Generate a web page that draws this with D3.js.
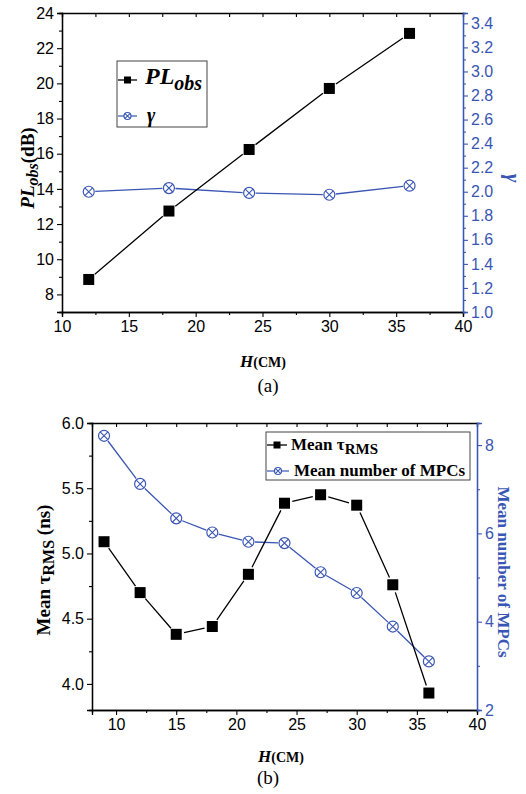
<!DOCTYPE html>
<html><head><meta charset="utf-8">
<script src="https://cdn.jsdelivr.net/npm/d3@7"></script>
<style>body{margin:0;background:#fff}</style>
</head><body>
<svg id="c" width="526" height="794"></svg>
<script>
// ---- data ----
const hA = [12, 18, 24, 30, 36];
const plObs = [8.85, 12.74, 16.24, 19.71, 22.84];
const gamma = [2.00, 2.03, 1.99, 1.975, 2.05];
const hB = [9, 12, 15, 18, 21, 24, 27, 30, 33, 36];
const tauRms = [5.09, 4.70, 4.38, 4.44, 4.84, 5.385, 5.45, 5.37, 4.76, 3.93];
const mpcs = [8.21, 7.12, 6.34, 6.02, 5.81, 5.78, 5.12, 4.65, 3.89, 3.10];
const xTicks = [10, 15, 20, 25, 30, 35, 40];
const xMinor = [12.5, 17.5, 22.5, 27.5, 32.5, 37.5];
const plTicks = [8, 10, 12, 14, 16, 18, 20, 22, 24];
const plMinor = [7, 9, 11, 13, 15, 17, 19, 21, 23];
const gammaTicks = [1.0, 1.2, 1.4, 1.6, 1.8, 2.0, 2.2, 2.4, 2.6, 2.8, 3.0, 3.2, 3.4];
const gammaMinor = [1.1, 1.3, 1.5, 1.7, 1.9, 2.1, 2.3, 2.5, 2.7, 2.9, 3.1, 3.3];
const tauTicks = [4.0, 4.5, 5.0, 5.5, 6.0];
const tauMinor = [4.25, 4.75, 5.25, 5.75];
const mpcTicks = [2, 4, 6, 8];
const mpcMinor = [3, 5, 7];

const BLUE = "#3a56b4";
const SANS = "Liberation Sans, Arial, sans-serif";
const SERIF = "Liberation Serif, Times New Roman, serif";
const svg = d3.select("#c");

function gapPath(pts, gap) {
  let d = "";
  for (let i = 0; i < pts.length - 1; i++) {
    const [x1, y1] = pts[i], [x2, y2] = pts[i + 1];
    const dx = x2 - x1, dy = y2 - y1, L = Math.hypot(dx, dy);
    if (L <= 2 * gap) continue;
    const ux = dx / L, uy = dy / L;
    d += `M${x1 + ux * gap},${y1 + uy * gap}L${x2 - ux * gap},${y2 - uy * gap}`;
  }
  return d;
}

function styleAxis(g, color, fs) {
  g.selectAll("path.domain").attr("stroke", color).attr("stroke-width", 1.3);
  g.selectAll(".tick line").attr("stroke", color).attr("stroke-width", 1.1);
  g.selectAll(".tick text").attr("fill", color).attr("font-family", SANS).attr("font-size", fs);
}

function panel(cfg) {
  const { L, R, T, B, xDom, yDom, y2Dom } = cfg;
  const x = d3.scaleLinear().domain(xDom).range([L, R]);
  const y = d3.scaleLinear().domain(yDom).range([B, T]);
  const y2 = d3.scaleLinear().domain(y2Dom).range([B, T]);
  const fs = 16;
  const gt = svg.append("g").attr("transform", `translate(0,${T})`)
    .call(d3.axisBottom(x).tickValues(xTicks.concat(xMinor)).tickSize(4).tickFormat(""));
  styleAxis(gt, "#000", fs);
  const gb = svg.append("g").attr("transform", `translate(0,${B})`)
    .call(d3.axisBottom(x).tickValues(xTicks).tickSize(5).tickPadding(4).tickFormat(d3.format("d")));
  styleAxis(gb, "#000", fs);
  const gbm = svg.append("g").attr("transform", `translate(0,${B})`)
    .call(d3.axisBottom(x).tickValues(xMinor).tickSize(3).tickFormat(""));
  styleAxis(gbm, "#000", fs);
  const gl = svg.append("g").attr("transform", `translate(${L},0)`)
    .call(d3.axisLeft(y).tickValues(cfg.yTicks).tickSize(5).tickPadding(3).tickFormat(d3.format(cfg.yFmt)));
  styleAxis(gl, "#000", fs);
  const glm = svg.append("g").attr("transform", `translate(${L},0)`)
    .call(d3.axisLeft(y).tickValues(cfg.yMinor).tickSize(3).tickFormat(""));
  styleAxis(glm, "#000", fs);
  const gr = svg.append("g").attr("transform", `translate(${R},0)`)
    .call(d3.axisRight(y2).tickValues(cfg.y2Ticks).tickSize(5).tickPadding(3).tickFormat(d3.format(cfg.y2Fmt)));
  styleAxis(gr, BLUE, fs);
  const grm = svg.append("g").attr("transform", `translate(${R},0)`)
    .call(d3.axisRight(y2).tickValues(cfg.y2Minor).tickSize(3).tickFormat(""));
  styleAxis(grm, BLUE, fs);
  return { x, y, y2 };
}

function drawSquares(xs, ys, sx, sy, size) {
  const pts = xs.map((v, i) => [sx(v), sy(ys[i])]);
  svg.append("path").attr("d", gapPath(pts, size / 2 + 2.5)).attr("stroke", "#000").attr("stroke-width", 1.3).attr("fill", "none");
  svg.append("g").selectAll("rect").data(pts).join("rect")
    .attr("x", d => d[0] - size / 2).attr("y", d => d[1] - size / 2)
    .attr("width", size).attr("height", size).attr("fill", "#000");
}
function crossCircle(g, cx, cy, r) {
  g.append("circle").attr("cx", cx).attr("cy", cy).attr("r", r).attr("fill", "#fff").attr("stroke", BLUE).attr("stroke-width", 1.2);
  const k = r * 0.7071;
  g.append("path").attr("d", `M${cx - k},${cy - k}L${cx + k},${cy + k}M${cx - k},${cy + k}L${cx + k},${cy - k}`)
    .attr("stroke", BLUE).attr("stroke-width", 1.1);
}
function drawCircles(xs, ys, sx, sy, r) {
  const pts = xs.map((v, i) => [sx(v), sy(ys[i])]);
  svg.append("path").attr("d", gapPath(pts, r + 1)).attr("stroke", BLUE).attr("stroke-width", 1.3).attr("fill", "none");
  const g = svg.append("g");
  pts.forEach(p => crossCircle(g, p[0], p[1], r));
}

// ---------- Panel (a) ----------
const A = panel({ L: 62, R: 463, T: 13, B: 312, xDom: [10, 40], yDom: [7, 24], y2Dom: [1.0, 3.486],
  yTicks: plTicks, yMinor: plMinor, yFmt: "d", y2Ticks: gammaTicks, y2Minor: gammaMinor, y2Fmt: ".1f" });
drawCircles(hA, gamma, A.x, A.y2, 5.5);
drawSquares(hA, plObs, A.x, A.y, 11);

// legend (a)
svg.append("rect").attr("x", 117).attr("y", 61).attr("width", 90).attr("height", 66)
  .attr("fill", "#fff").attr("stroke", "#444").attr("stroke-width", 1);
svg.append("line").attr("x1", 118).attr("x2", 137).attr("y1", 80).attr("y2", 80).attr("stroke", "#000").attr("stroke-width", 1.3);
svg.append("rect").attr("x", 124).attr("y", 76.5).attr("width", 7).attr("height", 7).attr("fill", "#000");
const lt1 = svg.append("text").attr("x", 145).attr("y", 84).attr("font-family", SERIF).attr("font-weight", "bold").attr("font-style", "italic").attr("font-size", 24);
lt1.append("tspan").text("PL");
lt1.append("tspan").attr("dy", 6).attr("font-size", 20).text("obs");
svg.append("line").attr("x1", 118).attr("x2", 137).attr("y1", 116).attr("y2", 116).attr("stroke", BLUE).attr("stroke-width", 1.2);
crossCircle(svg.append("g"), 127.5, 116, 3.5);
svg.append("text").attr("x", 147).attr("y", 122).attr("font-family", SERIF).attr("font-weight", "bold").attr("font-style", "italic").attr("font-size", 20).text("γ");

// axis labels (a)
const yl = svg.append("text").attr("transform", "translate(34,168) rotate(-90)").attr("text-anchor", "middle")
  .attr("font-family", SERIF).attr("font-weight", "bold").attr("font-size", 19);
yl.append("tspan").attr("font-style", "italic").text("PL");
yl.append("tspan").attr("font-style", "italic").attr("dy", 4).attr("font-size", 16).text("obs");
yl.append("tspan").attr("dy", -4).text("(dB)");
svg.append("text").attr("transform", "translate(506,178) rotate(90)").attr("text-anchor", "middle")
  .attr("font-family", SERIF).attr("font-weight", "bold").attr("font-style", "italic").attr("font-size", 21)
  .attr("fill", BLUE).text("γ");
const xl = svg.append("text").attr("x", 263).attr("y", 367).attr("text-anchor", "middle")
  .attr("font-family", SERIF).attr("font-weight", "bold").attr("font-size", 17);
xl.append("tspan").attr("font-style", "italic").text("H");
xl.append("tspan").attr("font-size", 14).text("(CM)");
svg.append("text").attr("x", 268).attr("y", 392).attr("text-anchor", "middle")
  .attr("font-family", SERIF).attr("font-size", 19).text("(a)");

// ---------- Panel (b) ----------
const Bp = panel({ L: 92, R: 477, T: 423, B: 710, xDom: [8, 40], yDom: [3.8, 6.0], y2Dom: [2, 8.5],
  yTicks: tauTicks, yMinor: tauMinor, yFmt: ".1f", y2Ticks: mpcTicks, y2Minor: mpcMinor, y2Fmt: "d" });
drawCircles(hB, mpcs, Bp.x, Bp.y2, 5.5);
drawSquares(hB, tauRms, Bp.x, Bp.y, 11);

// legend (b)
svg.append("rect").attr("x", 266).attr("y", 432).attr("width", 204).attr("height", 48)
  .attr("fill", "#fff").attr("stroke", "#444").attr("stroke-width", 1);
svg.append("line").attr("x1", 267).attr("x2", 287).attr("y1", 445).attr("y2", 445).attr("stroke", "#000").attr("stroke-width", 1.3);
svg.append("rect").attr("x", 273.5).attr("y", 441.5).attr("width", 7).attr("height", 7).attr("fill", "#000");
const bl1 = svg.append("text").attr("x", 291).attr("y", 450).attr("font-family", SERIF).attr("font-weight", "bold").attr("font-size", 17);
bl1.append("tspan").text("Mean τ");
bl1.append("tspan").attr("dy", 4).attr("font-size", 15).text("RMS");
svg.append("line").attr("x1", 267).attr("x2", 289).attr("y1", 471).attr("y2", 471).attr("stroke", BLUE).attr("stroke-width", 1.2);
crossCircle(svg.append("g"), 278, 471, 3.5);
svg.append("text").attr("x", 294).attr("y", 476).attr("font-family", SERIF).attr("font-weight", "bold").attr("font-size", 17).text("Mean number of MPCs");

// axis labels (b)
const ylb = svg.append("text").attr("transform", "translate(50,570) rotate(-90)").attr("text-anchor", "middle")
  .attr("font-family", SERIF).attr("font-weight", "bold").attr("font-size", 19);
ylb.append("tspan").text("Mean τ");
ylb.append("tspan").attr("dy", 4).attr("font-size", 16).text("RMS");
ylb.append("tspan").attr("dy", -4).text(" (ns)");
svg.append("text").attr("transform", "translate(498,572) rotate(90)").attr("text-anchor", "middle")
  .attr("font-family", SERIF).attr("font-weight", "bold").attr("font-size", 17)
  .attr("fill", BLUE).text("Mean number of MPCs");
const xlb = svg.append("text").attr("x", 281).attr("y", 762).attr("text-anchor", "middle")
  .attr("font-family", SERIF).attr("font-weight", "bold").attr("font-size", 17);
xlb.append("tspan").attr("font-style", "italic").text("H");
xlb.append("tspan").attr("font-size", 14).text("(CM)");
svg.append("text").attr("x", 268).attr("y", 784).attr("text-anchor", "middle")
  .attr("font-family", SERIF).attr("font-size", 19).text("(b)");
</script>
</body></html>
